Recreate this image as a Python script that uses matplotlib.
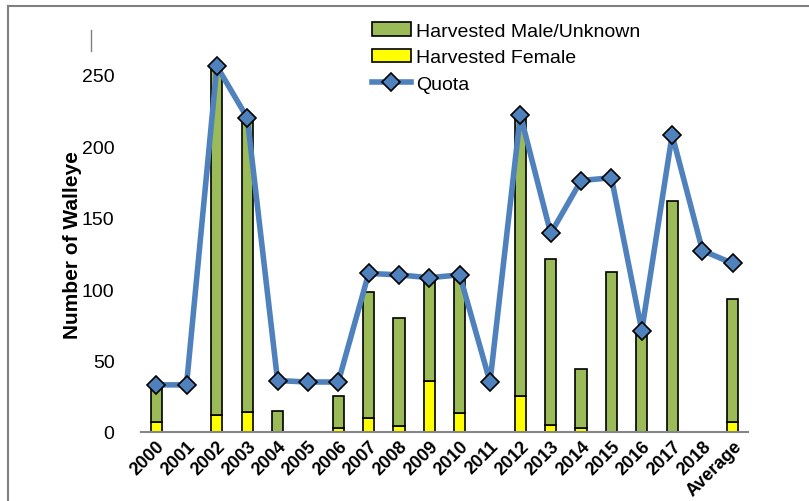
import matplotlib
matplotlib.use("Agg")
import matplotlib.pyplot as plt
from matplotlib.lines import Line2D
import numpy as np

plt.rcParams["font.family"] = ["Liberation Sans", "DejaVu Sans"]

# data
years = ["2000", "2001", "2002", "2003", "2004", "2005", "2006", "2007", "2008",
         "2009", "2010", "2011", "2012", "2013", "2014", "2015", "2016", "2017",
         "2018", "Average"]
male_unknown = [26, 0, 243, 205, 15, 0, 22, 88, 76, 70, 97, 0, 196, 116, 41, 112,
                71, 162, 0, 86]
female = [7, 0, 12, 14, 0, 0, 3, 10, 4, 36, 13, 0, 25, 5, 3, 0, 0, 0, 0, 7]
quota = [33, 33, 256, 220, 36, 35, 35, 111, 110, 108, 110, 35, 222, 139, 176, 178,
         71, 208, 127, 118]

W, H = 809, 502
fig = plt.figure(figsize=(W / 100, H / 100), dpi=100)
ax = fig.add_axes([141 / W, 1 - 433 / H, (748 - 141) / W, (433 - 33) / H])

x = np.arange(len(years))
bw = 0.37
ax.bar(x, female, bw, color="#FFFF00", edgecolor="black", lw=1.2, zorder=2,
       label="Harvested Female")
ax.bar(x, male_unknown, bw, bottom=female, color="#9BBB59", edgecolor="black",
       lw=1.2, zorder=2, label="Harvested Male/Unknown")
ax.plot(x, quota, color="#4F81BD", lw=4, marker="D", ms=9.5, mfc="#4F81BD",
        mec="black", mew=1.2, zorder=3, label="Quota")

ax.set_xlim(-0.5, len(years) - 0.5)
ax.set_ylim(0, 280)
ax.set_yticks([0, 50, 100, 150, 200, 250])
ax.tick_params(axis="y", length=0, labelsize=14, pad=19)
ax.tick_params(axis="x", length=0, pad=4)
ax.set_xticks(x)
ax.set_xticklabels(years, rotation=45, ha="right", rotation_mode="anchor",
                   fontsize=13, fontweight="bold")
for s in ["left", "top", "right"]:
    ax.spines[s].set_visible(False)
ax.spines["bottom"].set_color("#868686")
ax.spines["bottom"].set_linewidth(1.5)

fig.text(72 / W, 1 - 245 / H, "Number of Walleye", rotation=90, ha="center",
         va="center", fontsize=15, fontweight="bold")

handles, labels = ax.get_legend_handles_labels()
order = [2, 1, 0]
leg = fig.legend([handles[i] for i in order], [labels[i] for i in order],
                 loc="upper left", bbox_to_anchor=(372 / W, 1 - 23 / H),
                 frameon=False, fontsize=14, handlelength=2.0,
                 handletextpad=0.25, labelspacing=0.46, borderpad=0,
                 borderaxespad=0)

# outer border and stray plot-area edge
fig.add_artist(Line2D([8 / W, 8 / W], [0, 1 - 7 / H], color="#808080", lw=1.5))
fig.add_artist(Line2D([8 / W, 1], [1 - 7 / H, 1 - 7 / H], color="#808080", lw=1.5))
fig.add_artist(Line2D([90.5 / W, 90.5 / W], [1 - 31 / H, 1 - 52 / H],
                      color="#808080", lw=1))

fig.savefig("out.png", dpi=100)
